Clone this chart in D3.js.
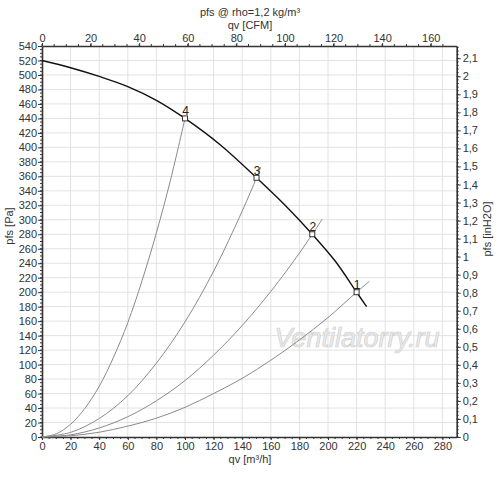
<!DOCTYPE html>
<html>
<head>
<meta charset="utf-8">
<script src="https://cdnjs.cloudflare.com/ajax/libs/d3/7.8.5/d3.min.js"></script>
<style>
  body { margin: 0; background: #fff; }
  svg { font-family: "Liberation Sans", Arial, sans-serif; }
  .tick text { fill: #333; font-size: 11px; }
  .axis path, .axis line { stroke: #333; }
</style>
</head>
<body>
<div id="chart"></div>
<script>
// fan curve (qv m3/h, pfs Pa)
const fanQ = [0, 20, 40, 60, 80, 100, 125, 150, 170, 189, 205, 220, 227];
const fanP = [520, 510, 498, 484, 465, 440, 403, 358, 320, 280, 243, 200, 180];

// system curves 1..4
const sys1Q = [0, 20, 40, 60, 80, 100, 120, 140, 160, 180, 200, 220, 229];
const sys1P = [0, 1.7, 6.6, 15, 26, 41, 60, 81, 106, 134, 165, 200, 215];
const sys2Q = [0, 20, 40, 60, 80, 100, 120, 140, 160, 180, 189, 196];
const sys2P = [0, 3, 12.5, 28, 50, 78, 113, 154, 201, 254, 280, 301];
const sys3Q = [0, 20, 40, 60, 80, 100, 120, 140, 150, 153];
const sys3P = [0, 6.4, 25.5, 57, 102, 159, 229, 312, 358, 373];
const sys4Q = [0, 10, 20, 30, 40, 50, 60, 70, 80, 90, 100];
const sys4P = [0, 4.4, 17.6, 39.6, 70, 110, 158, 216, 282, 356, 440];

// operating points
const pointNames = ["1", "2", "3", "4"];
const pointQ = [220, 189, 150, 100];
const pointP = [200, 280, 358, 440];

const qvMax = 290, pMax = 540;
const CFM = 1.699, INH2O = 249.09;

const width = 500, height = 479;
const margin = { top: 46, right: 43.3, bottom: 42, left: 42 };

const svg = d3.select("#chart").append("svg")
  .attr("width", width)
  .attr("height", height);

let x = d3.scaleLinear().domain([0, qvMax]).range([margin.left, width - margin.right]);
let y = d3.scaleLinear().domain([0, pMax]).range([height - margin.bottom, margin.top]);
let xCfm = d3.scaleLinear().domain([0, qvMax / CFM]).range(x.range());
let yIn = d3.scaleLinear().domain([0, pMax / INH2O]).range(y.range());

// grid
let grid = svg.append("g").attr("stroke", "#e2e2e2").attr("stroke-width", 1);
grid.selectAll("line.gx")
  .data(d3.range(20, qvMax, 20))
  .enter().append("line")
    .attr("x1", d => x(d)).attr("x2", d => x(d))
    .attr("y1", y(0)).attr("y2", y(pMax));
grid.selectAll("line.gy")
  .data(d3.range(20, pMax, 20))
  .enter().append("line")
    .attr("x1", x(0)).attr("x2", x(qvMax))
    .attr("y1", d => y(d)).attr("y2", d => y(d));

// watermark
svg.append("text")
  .attr("x", 357).attr("y", 347)
  .attr("text-anchor", "middle")
  .attr("font-size", 27)
  .attr("font-style", "italic")
  .attr("fill", "#ececec")
  .attr("stroke", "#cfcfcf")
  .attr("stroke-width", 0.7)
  .text("Ventilatorry.ru");

const comma = d => d3.format(".1~f")(d).replace(".", ",");

function minorTicks(g, values, pos, len, horizontal) {
  g.selectAll("line.minor")
    .data(values)
    .enter().append("line")
      .attr("stroke", "#333")
      .attr("x1", d => horizontal ? pos(d) : 0)
      .attr("x2", d => horizontal ? pos(d) : len)
      .attr("y1", d => horizontal ? 0 : pos(d))
      .attr("y2", d => horizontal ? len : pos(d));
}

// bottom axis
let gB = svg.append("g").attr("class", "axis")
  .attr("transform", `translate(0,${y(0)})`)
  .call(d3.axisBottom(x).tickValues(d3.range(0, qvMax, 20)).tickSize(3).tickSizeOuter(0).tickPadding(2));
minorTicks(gB, d3.range(0, qvMax, 5), x, 2, true);

// top axis
let gT = svg.append("g").attr("class", "axis")
  .attr("transform", `translate(0,${y(pMax)})`)
  .call(d3.axisTop(xCfm).tickValues(d3.range(0, 170, 20)).tickSize(3).tickSizeOuter(0).tickPadding(1));
minorTicks(gT, d3.range(0, 170, 5), xCfm, -2, true);

// left axis
let gL = svg.append("g").attr("class", "axis")
  .attr("transform", `translate(${x(0)},0)`)
  .call(d3.axisLeft(y).tickValues(d3.range(0, pMax + 1, 20)).tickSize(4).tickSizeOuter(0).tickPadding(1));
minorTicks(gL, d3.range(0, pMax, 5), y, -2, false);

// right axis
let gR = svg.append("g").attr("class", "axis")
  .attr("transform", `translate(${x(qvMax)},0)`)
  .call(d3.axisRight(yIn).tickValues(d3.range(0, 22).map(d => d / 10)).tickFormat(comma).tickSize(4).tickSizeOuter(0).tickPadding(2));
minorTicks(gR, d3.range(0, 109).map(d => d / 50), yIn, 2, false);

svg.selectAll(".axis path.domain").attr("stroke-width", 1.6);

// axis titles
svg.append("text").attr("x", 250).attr("y", 16).attr("text-anchor", "middle")
  .attr("font-size", 11).attr("fill", "#333").text("pfs @ rho=1,2 kg/m³");
svg.append("text").attr("x", 250).attr("y", 29).attr("text-anchor", "middle")
  .attr("font-size", 11).attr("fill", "#333").text("qv [CFM]");
svg.append("text").attr("x", 250).attr("y", 463).attr("text-anchor", "middle")
  .attr("font-size", 11).attr("fill", "#333").text("qv [m³/h]");
svg.append("text").attr("transform", "translate(13,226) rotate(-90)").attr("text-anchor", "middle")
  .attr("font-size", 11).attr("fill", "#333").text("pfs [Pa]");
svg.append("text").attr("transform", "translate(491,229) rotate(-90)").attr("text-anchor", "middle")
  .attr("font-size", 11).attr("fill", "#333").text("pfs [inH2O]");

// curves
let line = d3.line()
  .x(d => x(d[0]))
  .y(d => y(d[1]))
  .curve(d3.curveCatmullRom.alpha(0.5));

[[sys1Q, sys1P], [sys2Q, sys2P], [sys3Q, sys3P], [sys4Q, sys4P]].forEach(s => {
  svg.append("path")
    .datum(d3.zip(s[0], s[1]))
    .attr("fill", "none")
    .attr("stroke", "#8a8a8a")
    .attr("stroke-width", 1)
    .attr("d", line);
});

svg.append("path")
  .datum(d3.zip(fanQ, fanP))
  .attr("fill", "none")
  .attr("stroke", "#111")
  .attr("stroke-width", 1.4)
  .attr("d", line);

// operating points
let pts = svg.selectAll("g.pt")
  .data(d3.zip(pointQ, pointP, pointNames))
  .enter().append("g")
    .attr("transform", d => `translate(${x(d[0])},${y(d[1])})`);
pts.append("rect")
  .attr("x", -2.5).attr("y", -2.5)
  .attr("width", 5).attr("height", 5)
  .attr("fill", "#fff")
  .attr("stroke", "#333");
pts.append("text")
  .attr("x", 0.5).attr("y", -3)
  .attr("text-anchor", "middle")
  .attr("font-size", 12)
  .attr("fill", "#222")
  .text(d => d[2]);
</script>
</body>
</html>
